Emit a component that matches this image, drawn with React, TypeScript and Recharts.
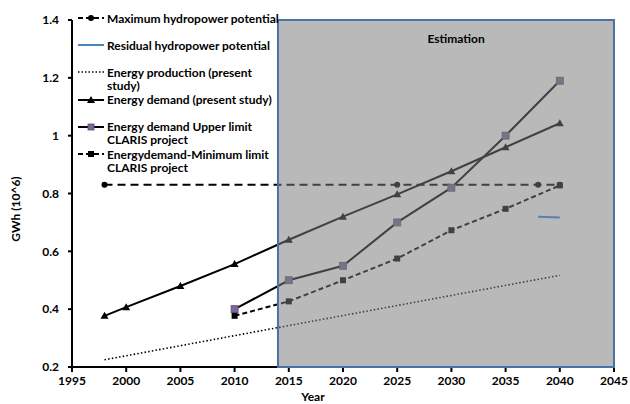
import React from 'react';
import { LineChart, Line, XAxis, YAxis, ReferenceArea, Label } from 'recharts';

// axis ticks
const X_TICKS = [1995, 2000, 2005, 2010, 2015, 2020, 2025, 2030, 2035, 2040, 2045];
const Y_TICKS = [0.2, 0.4, 0.6, 0.8, 1.0, 1.2, 1.4];
const X_DOMAIN = [1995, 2045];
const Y_DOMAIN = [0.2, 1.4];

// series (GWh x 10^6)
const maxHydroYears = [1998, 2025, 2038, 2040];
const maxHydroValues = [0.83, 0.83, 0.83, 0.83];

const residualYears = [2038, 2040];
const residualValues = [0.72, 0.717];

const productionYears = [1998, 2040];
const productionValues = [0.225, 0.517];

const demandYears = [1998, 2000, 2005, 2010, 2015, 2020, 2025, 2030, 2035, 2040];
const demandValues = [0.377, 0.407, 0.48, 0.556, 0.64, 0.72, 0.797, 0.877, 0.96, 1.043];

const clarisYears = [2010, 2015, 2020, 2025, 2030, 2035, 2040];
const upperValues = [0.4, 0.5, 0.55, 0.7, 0.82, 1.0, 1.19];
const minValues = [0.377, 0.427, 0.5, 0.575, 0.673, 0.747, 0.828];

const ESTIMATION_START = 2014;

const LEGEND_LABELS = [
  'Maximum hydropower potential',
  'Residual hydropower potential',
  'Energy production (present\nstudy)',
  'Energy demand (present study)',
  'Energy demand Upper limit\nCLARIS project',
  'Energydemand-Minimum limit\nCLARIS project',
];

const toPoints = (xs: number[], ys: number[]) => xs.map((x, i) => ({ x, y: ys[i] }));

const FONT = 'Lato, "DejaVu Sans", sans-serif';
const tickStyle = { fontFamily: FONT, fontWeight: 700, fontSize: 12, fill: '#000' };

const CircleDot = (p: any) =>
  p.cx == null ? null : <circle key={`c${p.index}`} cx={p.cx} cy={p.cy} r={3} fill="#000" />;

const TriangleDot = (p: any) =>
  p.cx == null ? null : (
    <path key={`t${p.index}`} d={`M${p.cx},${p.cy - 4}L${p.cx + 4},${p.cy + 3}L${p.cx - 4},${p.cy + 3}Z`} fill="#000" />
  );

const PurpleSquare = (p: any) =>
  p.cx == null ? null : (
    <rect key={`p${p.index}`} x={p.cx - 3.5} y={p.cy - 3.5} width={7} height={7} fill="#8064A2" stroke="#555" strokeWidth={0.8} />
  );

const BlackSquare = (p: any) =>
  p.cx == null ? null : <rect key={`b${p.index}`} x={p.cx - 3} y={p.cy - 3} width={6} height={6} fill="#000" />;

const legendSymbols = [
  <svg width={26} height={10}><line x1={0} y1={5} x2={26} y2={5} stroke="#000" strokeWidth={2} strokeDasharray="5 3" /><circle cx={13} cy={5} r={3} fill="#000" /></svg>,
  <svg width={26} height={10}><line x1={0} y1={5} x2={26} y2={5} stroke="#4F81BD" strokeWidth={2} /></svg>,
  <svg width={26} height={10}><line x1={0} y1={5} x2={26} y2={5} stroke="#000" strokeWidth={1.5} strokeDasharray="1.5 2" /></svg>,
  <svg width={26} height={10}><line x1={0} y1={5} x2={26} y2={5} stroke="#000" strokeWidth={2} /><path d="M13,1L17,8L9,8Z" fill="#000" /></svg>,
  <svg width={26} height={10}><line x1={0} y1={5} x2={26} y2={5} stroke="#000" strokeWidth={2} /><rect x={10} y={2} width={6} height={6} fill="#8064A2" stroke="#555" strokeWidth={0.8} /></svg>,
  <svg width={26} height={10}><line x1={0} y1={5} x2={26} y2={5} stroke="#000" strokeWidth={2} strokeDasharray="5 3" /><rect x={10} y={2} width={6} height={6} fill="#000" /></svg>,
];

export default function App() {
  return (
    <div style={{ position: 'absolute', left: 0, top: 0, width: 630, height: 404, background: '#fff' }}>
      <LineChart width={630} height={404} margin={{ top: 20, right: 16, left: 0, bottom: 0 }}>
        <XAxis
          type="number"
          dataKey="x"
          domain={X_DOMAIN}
          ticks={X_TICKS}
          tick={tickStyle}
          tickSize={5}
          tickMargin={4}
          height={37}
          stroke="#000"
          strokeWidth={2}
          allowDataOverflow
        >
          <Label
            content={() => (
              <text x={313} y={401} textAnchor="middle" fontFamily={FONT} fontWeight={700} fontSize={12} fill="#000">
                Year
              </text>
            )}
          />
        </XAxis>
        <YAxis
          type="number"
          dataKey="y"
          domain={Y_DOMAIN}
          ticks={Y_TICKS}
          tick={tickStyle}
          tickFormatter={(v: number) => (v === 1 ? '1' : v.toFixed(1))}
          tickSize={4}
          tickMargin={9}
          width={72}
          stroke="#000"
          strokeWidth={2}
          allowDataOverflow
        >
          <Label
            content={() => (
              <text x={20} y={209} transform="rotate(-90 20 209)" textAnchor="middle" fontFamily={FONT} fontWeight={700} fontSize={12} fill="#000">
                GWh (10^6)
              </text>
            )}
          />
        </YAxis>

        <Line data={toPoints(productionYears, productionValues)} dataKey="y" stroke="#000" strokeWidth={1.6} strokeDasharray="1.5 2.2" dot={false} isAnimationActive={false} />
        <Line data={toPoints(maxHydroYears, maxHydroValues)} dataKey="y" stroke="#000" strokeWidth={2} strokeDasharray="8 5" dot={CircleDot} isAnimationActive={false} />
        <Line data={toPoints(demandYears, demandValues)} dataKey="y" stroke="#000" strokeWidth={2} dot={TriangleDot} isAnimationActive={false} />
        <Line data={toPoints(clarisYears, upperValues)} dataKey="y" stroke="#000" strokeWidth={2} dot={PurpleSquare} isAnimationActive={false} />
        <Line data={toPoints(clarisYears, minValues)} dataKey="y" stroke="#000" strokeWidth={2} strokeDasharray="5 3" dot={BlackSquare} isAnimationActive={false} />
      </LineChart>

      {/* semi-transparent "Estimation" shade, drawn in a second chart on top so it darkens the lines */}
      <div style={{ position: 'absolute', left: 0, top: 0, pointerEvents: 'none' }}>
        <LineChart width={630} height={404} margin={{ top: 20, right: 16, left: 72, bottom: 37 }}>
          <XAxis type="number" dataKey="x" domain={X_DOMAIN} hide allowDataOverflow />
          <YAxis type="number" dataKey="y" domain={Y_DOMAIN} hide allowDataOverflow />
          <ReferenceArea
            x1={ESTIMATION_START}
            x2={2045}
            y1={0.2}
            y2={1.4}
            fill="#7A7A7A"
            fillOpacity={0.53}
            stroke="#4A72A8"
            strokeWidth={2}
            strokeOpacity={1}
            ifOverflow="extendDomain"
            label={{
              content: (p: any) => {
                const vb = p.viewBox || {};
                return (
                  <text x={vb.x + vb.width * 0.53} y={vb.y + 23} textAnchor="middle" fontFamily={FONT} fontWeight={700} fontSize={12} fill="#000">
                    Estimation
                  </text>
                );
              },
            }}
          />
          <Line data={toPoints(residualYears, residualValues)} dataKey="y" stroke="#5B7DB0" strokeWidth={2} dot={false} isAnimationActive={false} />
        </LineChart>
      </div>

      {/* legend overlay, top left of the plot */}
      <div style={{ position: 'absolute', left: 78, top: 0, fontFamily: FONT, fontWeight: 700, fontSize: 12, color: '#000' }}>
        {LEGEND_LABELS.map((label, i) => (
          <div key={label} style={{ position: 'absolute', top: 11.5 + i * 27.2, left: 0, display: 'flex', alignItems: 'flex-start', whiteSpace: 'pre', lineHeight: '13px' }}>
            <div style={{ width: 29, height: 13, display: 'flex', alignItems: 'center' }}>{legendSymbols[i]}</div>
            <span>{label}</span>
          </div>
        ))}
      </div>
    </div>
  );
}
